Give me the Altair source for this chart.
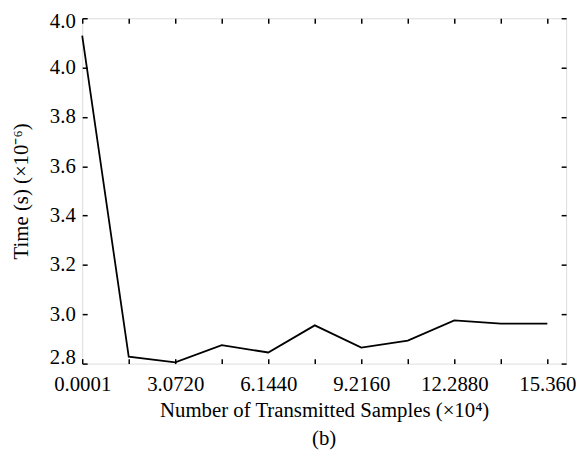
import json
import altair as alt
import pandas as pd

# data
samples = [0.0001, 1.536, 3.072, 4.608, 6.144, 7.680, 9.216, 10.752, 12.288, 13.824, 15.360]
time_us = [4.13, 2.828, 2.805, 2.875, 2.845, 2.955, 2.865, 2.893, 2.975, 2.962, 2.962]

x_ticks = [0.0001, 1.536, 3.072, 4.608, 6.144, 7.680, 9.216, 10.752, 12.288, 13.824, 15.360]
x_tick_labels = ["0.0001", "", "3.0720", "", "6.1440", "", "9.2160", "", "12.2880", "", "15.360"]
y_ticks = [2.8, 3.0, 3.2, 3.4, 3.6, 3.8, 4.0, 4.2]
y_tick_labels = ["2.8", "3.0", "3.2", "3.4", "3.6", "3.8", "4.0", "4.0"]

df = pd.DataFrame({"x": samples, "y": time_us})

FONT = "Liberation Serif"
FS = 21

x_expr = json.dumps(x_tick_labels) + "[round(datum.value/1.536)]"
y_expr = json.dumps(y_tick_labels) + "[round((datum.value-2.8)/0.2)]"

x_scale = alt.Scale(domain=[0.0001, 15.98], nice=False, zero=False)
y_scale = alt.Scale(domain=[2.8, 4.2], nice=False, zero=False)

common_axis = dict(domain=False, grid=False, ticks=True, tickSize=5, tickWidth=1.5,
                   tickColor="#000000", offset=-5, labelFont=FONT, labelFontSize=FS,
                   labelColor="#000000", titleFont=FONT, titleFontSize=FS,
                   titleColor="#000000", titleFontWeight="normal")

line = alt.Chart(df).mark_line(color="#000000", strokeWidth=1.8).encode(
    x=alt.X("x:Q", scale=x_scale,
            axis=alt.Axis(values=x_ticks, labelExpr=x_expr, labelPadding=10,
                          labelOverlap=False, labelFlush=False,
                          title="Number of Transmitted Samples (×10⁴)",
                          titlePadding=5, **common_axis)),
    y=alt.Y("y:Q", scale=y_scale,
            axis=alt.Axis(values=y_ticks, labelExpr=y_expr, labelPadding=7,
                          labelOverlap=False, labelFlush=False,
                          labelOffset={"condition": {"test": "datum.value > 4.1", "value": 3},
                                       "value": 0},
                          labelBaseline={"condition": {"test": "datum.value < 2.9", "value": "alphabetic"},
                                         "value": "middle"},
                          title="Time (s) (×10⁻⁶)", titlePadding=18,
                          **common_axis)),
)

frame = alt.Chart(df).mark_line(opacity=0).encode(
    x=alt.X("x:Q", scale=x_scale,
            axis=alt.Axis(orient="top", values=x_ticks, labels=False, title=None,
                          **common_axis)),
    y=alt.Y("y:Q", scale=y_scale,
            axis=alt.Axis(orient="right", values=y_ticks, labels=False, title=None,
                          **common_axis)),
)

chart = alt.layer(line, frame).resolve_axis(x="independent", y="independent").properties(
    width=489,
    height=349,
    autosize=alt.AutoSizeParams(type="none"),
    padding={"left": 75, "top": 8, "right": 10, "bottom": 90},
    title=alt.Title("(b)", orient="bottom", font=FONT, fontSize=FS,
                    fontWeight="normal", color="#000000", offset=8, anchor="middle"),
).configure_view(stroke="#000000", strokeWidth=1.5).configure(background="white")

chart.save("out.html", embed_options={"renderer": "svg", "actions": False})
